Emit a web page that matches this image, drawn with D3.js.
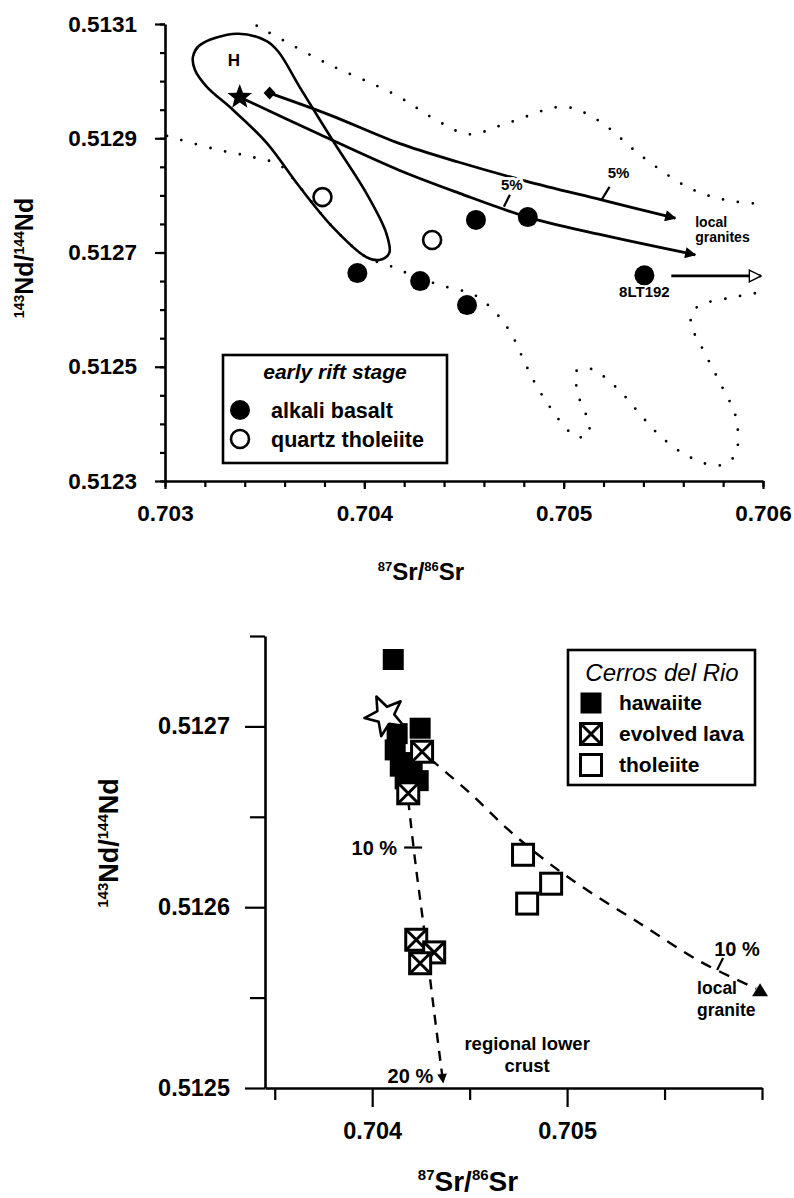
<!DOCTYPE html>
<html>
<head>
<meta charset="utf-8">
<script src="https://cdn.jsdelivr.net/npm/d3@7"></script>
<style>
  body { margin: 0; background: #fff; }
  svg text { font-family: "Liberation Sans", Arial, Helvetica, sans-serif; fill: #000; }
</style>
</head>
<body>
<svg id="fig" width="794" height="1198"></svg>
<script>
// ---------- upper panel: early rift stage ----------
const alkaliBasalt = [[0.703965, 0.512664], [0.70428, 0.51265], [0.704515, 0.512608],
                      [0.70456, 0.512757], [0.70482, 0.512762], [0.705405, 0.51266]];
const quartzTholeiite = [[0.70379, 0.512797], [0.70434, 0.512722]];
const starA = [0.703375, 0.512972];
const diamondA = [0.703525, 0.512979];
// mixing curves towards local granites
const mixUpper = [[0.703525, 0.512979], [0.703825, 0.512941], [0.704175, 0.512891], [0.704475, 0.512858],
                  [0.70481, 0.512825], [0.70519, 0.512792], [0.70556, 0.51276]];
const mixLower = [[0.703375, 0.512972], [0.703775, 0.512907], [0.704175, 0.512844], [0.704475, 0.512804],
                  [0.70482, 0.512762], [0.705175, 0.512732], [0.70566, 0.512696]];
// dotted field
const fieldTop = [[0.70346, 0.513097], [0.7038, 0.513033], [0.70415, 0.512977], [0.704385, 0.512927],
                  [0.704525, 0.512907], [0.70473, 0.512928], [0.705, 0.512955], [0.70517, 0.512932],
                  [0.70539, 0.512869], [0.70563, 0.512813], [0.70581, 0.512792], [0.706, 0.512785]];
const fieldBottom = [[0.70301, 0.512904], [0.70325, 0.512881], [0.70344, 0.512867], [0.703575, 0.512853],
                     [0.703675, 0.512815], [0.70384, 0.512745], [0.70401, 0.512692], [0.70414, 0.512675],
                     [0.704275, 0.512655], [0.70441, 0.51264], [0.70455, 0.512626], [0.704655, 0.512596],
                     [0.704735, 0.512559], [0.704795, 0.512515], [0.704855, 0.512472], [0.70493, 0.51243],
                     [0.705015, 0.512391], [0.705065, 0.512377], [0.705125, 0.512381], [0.705125, 0.512403],
                     [0.705075, 0.512449], [0.705065, 0.512493], [0.70514, 0.512496], [0.705205, 0.512482],
                     [0.705305, 0.512449], [0.705395, 0.512412], [0.70549, 0.512377], [0.70561, 0.512346],
                     [0.70574, 0.512328], [0.705815, 0.51233], [0.70586, 0.512346], [0.705875, 0.512368],
                     [0.70586, 0.512417], [0.7058, 0.512461], [0.705705, 0.512526], [0.705645, 0.512568],
                     [0.70564, 0.512592], [0.705685, 0.512608], [0.705825, 0.51262], [0.705965, 0.512629]];
// Hawaii field "H"
const fieldH = [[0.70314, 0.513042], [0.703175, 0.513063], [0.70336, 0.513083], [0.70351, 0.51307],
                [0.70357, 0.513051], [0.703675, 0.51299], [0.70384, 0.512897], [0.70401, 0.512804],
                [0.70411, 0.512734], [0.704125, 0.512699], [0.704075, 0.512687], [0.70401, 0.512692],
                [0.70384, 0.512745], [0.703675, 0.512815], [0.70351, 0.512892], [0.70334, 0.51295],
                [0.70321, 0.51299], [0.70315, 0.51302]];
const arrow8LT = [[0.70554, 0.512659], [0.70599, 0.512659]];
const xMajorA = [0.703, 0.704, 0.705, 0.706];
const yMajorA = [0.5123, 0.5125, 0.5127, 0.5129, 0.5131];

// ---------- lower panel: Cerros del Rio ----------
const hawaiite = [[0.704108, 0.512737], [0.704246, 0.512699], [0.704128, 0.512696], [0.704118, 0.512687],
                  [0.704144, 0.512678], [0.704205, 0.51268], [0.704169, 0.512671], [0.704236, 0.51267]];
const evolvedLava = [[0.704256, 0.512686], [0.704185, 0.512663], [0.704226, 0.512582],
                     [0.704318, 0.512575], [0.704246, 0.512569]];
const tholeiite = [[0.704774, 0.512629], [0.704918, 0.512613], [0.704795, 0.512602]];
const starB = [0.704067, 0.512706];
const localGranite = [0.70599, 0.512554];
const crustCurve = [[0.704185, 0.512659], [0.70422, 0.512626], [0.704267, 0.512587],
                    [0.704318, 0.512542], [0.704364, 0.512503]];
const graniteCurve = [[0.704297, 0.512682], [0.704503, 0.512663], [0.704697, 0.512643], [0.704887, 0.512626],
                      [0.705067, 0.512612], [0.705374, 0.512591], [0.705682, 0.51257], [0.70597, 0.512555]];
const xMajorB = [0.704, 0.705];
const xMinorB = [0.7035, 0.7045, 0.7055, 0.706];
const yMajorB = [0.5125, 0.5126, 0.5127];
const yMinorB = [0.51255, 0.51265, 0.51275];

const svg = d3.select('#fig');

// scales
const xA = d3.scaleLinear().domain([0.703, 0.706]).range([165, 763]);
const yA = d3.scaleLinear().domain([0.5123, 0.5131]).range([481, 24]);
const xB = d3.scaleLinear().domain([0.70345, 0.706]).range([265, 762]);
const yB = d3.scaleLinear().domain([0.5125, 0.51275]).range([1088, 636]);

// markers
const defs = svg.append('defs');
defs.append('marker').attr('id', 'headFilled')
  .attr('viewBox', '0 0 10 10').attr('refX', 9).attr('refY', 5)
  .attr('markerWidth', 5.5).attr('markerHeight', 4).attr('orient', 'auto')
  .append('path').attr('d', 'M0,0L10,5L0,10Z').attr('fill', '#000');
defs.append('marker').attr('id', 'headOpen')
  .attr('viewBox', '-1 -1 12 12').attr('refX', 10).attr('refY', 5)
  .attr('markerWidth', 18).attr('markerHeight', 14).attr('orient', 'auto')
  .attr('markerUnits', 'userSpaceOnUse')
  .append('path').attr('d', 'M0,0L10,5L0,10Z').attr('fill', '#fff').attr('stroke', '#000').attr('stroke-width', 1.2);

function drawAxes(x, y, o) {
  const x0 = x.range()[0], y0 = y.range()[0];
  const gxm = svg.append('g').attr('transform', `translate(0,${y0})`)
    .call(d3.axisBottom(x).tickValues(o.xMinor).tickSize(o.xMinorLen).tickFormat(''));
  gxm.select('.domain').remove();
  const gx = svg.append('g').attr('transform', `translate(0,${y0})`)
    .call(d3.axisBottom(x).tickValues(o.xMajor).tickSize(o.xMajorLen).tickSizeOuter(0)
      .tickPadding(o.xPad).tickFormat(d3.format('.3f')));
  const gym = svg.append('g').attr('transform', `translate(${x0},0)`)
    .call(d3.axisLeft(y).tickValues(o.yMinor).tickSize(o.yMinorLen).tickFormat(''));
  gym.select('.domain').remove();
  const gy = svg.append('g').attr('transform', `translate(${x0},0)`)
    .call(d3.axisLeft(y).tickValues(o.yMajor).tickSize(o.yMajorLen).tickSizeOuter(0)
      .tickPadding(o.yPad).tickFormat(d3.format('.4f')));
  [gxm, gx, gym, gy].forEach(g => {
    g.selectAll('.domain').attr('stroke', '#000').attr('stroke-width', 2.6);
    g.selectAll('.tick line').attr('stroke', '#000').attr('stroke-width', 2.2);
    g.selectAll('.tick text').attr('font-size', o.fontSize).attr('font-weight', 'bold')
      .style('font-family', '"Liberation Sans", Arial, sans-serif');
  });
}

function axisTitle(x, y, rotate, size, supSize, parts) {
  const t = svg.append('text').attr('text-anchor', 'middle').attr('font-weight', 'bold')
    .attr('font-size', size)
    .attr('transform', `translate(${x},${y})` + (rotate ? ' rotate(-90)' : ''));
  parts.forEach(([str, sup], i) => {
    const s = t.append('tspan').text(str);
    if (sup) s.attr('font-size', supSize).attr('dy', -size * 0.38);
    else if (i > 0) s.attr('dy', size * 0.38);
  });
  return t;
}

function starPath(cx, cy, R, r, rot) {
  const pts = [];
  for (let i = 0; i < 10; i++) {
    const a = (rot - 90 + i * 36) * Math.PI / 180;
    const rad = i % 2 ? r : R;
    pts.push([cx + rad * Math.cos(a), cy + rad * Math.sin(a)]);
  }
  return 'M' + pts.map(p => p.join(',')).join('L') + 'Z';
}

const smooth = (x, y) => d3.line().x(d => x(d[0])).y(d => y(d[1])).curve(d3.curveCatmullRom.alpha(0.5));

// ================= UPPER PANEL =================
const gA = svg.append('g');

// dotted field outline
[fieldTop, fieldBottom].forEach(f => {
  gA.append('path').attr('d', smooth(xA, yA)(f)).attr('fill', 'none')
    .attr('stroke', '#000').attr('stroke-width', 2.8)
    .attr('stroke-linecap', 'round').attr('stroke-dasharray', '0 15');
});

// H field
gA.append('path')
  .attr('d', d3.line().x(d => xA(d[0])).y(d => yA(d[1])).curve(d3.curveCatmullRomClosed.alpha(0.5))(fieldH))
  .attr('fill', 'none').attr('stroke', '#000').attr('stroke-width', 2.6);
gA.append('text').attr('x', xA(0.703345)).attr('y', yA(0.513037) + 6).attr('text-anchor', 'middle')
  .attr('font-size', 17).attr('font-weight', 'bold').text('H');

// mixing curves
[mixUpper, mixLower].forEach(c => {
  gA.append('path').attr('d', smooth(xA, yA)(c)).attr('fill', 'none')
    .attr('stroke', '#000').attr('stroke-width', 2.8).attr('marker-end', 'url(#headFilled)');
});

// 5% ticks and labels
const tickMarksA = [
  { pt: [0.7047, 0.51278], dx: 6, dy: -12, label: [0.70474, 0.512818] },
  { pt: [0.70519, 0.512792], dx: 8, dy: -13, label: [0.705275, 0.512839] }
];
tickMarksA.forEach(t => {
  gA.append('line').attr('x1', xA(t.pt[0])).attr('y1', yA(t.pt[1]))
    .attr('x2', xA(t.pt[0]) + t.dx).attr('y2', yA(t.pt[1]) + t.dy)
    .attr('stroke', '#000').attr('stroke-width', 2.2);
  gA.append('text').attr('x', xA(t.label[0])).attr('y', yA(t.label[1]) + 5)
    .attr('text-anchor', 'middle').attr('font-size', 15).attr('font-weight', 'bold')
    .attr('stroke', '#fff').attr('stroke-width', 6).attr('paint-order', 'stroke')
    .attr('stroke-linejoin', 'round').text('5%');
});

gA.append('text').attr('x', xA(0.70566)).attr('y', yA(0.512757) + 7)
  .attr('font-size', 14).attr('font-weight', 'bold').text('local');
gA.append('text').attr('x', xA(0.70566)).attr('y', yA(0.512727) + 5)
  .attr('font-size', 14).attr('font-weight', 'bold').text('granites');

// 8LT192 arrow
gA.append('path').attr('d', d3.line().x(d => xA(d[0])).y(d => yA(d[1]))(arrow8LT))
  .attr('stroke', '#000').attr('stroke-width', 2.6).attr('marker-end', 'url(#headOpen)');
gA.append('text').attr('x', xA(0.705405)).attr('y', yA(0.512622))
  .attr('text-anchor', 'middle').attr('font-size', 15).attr('font-weight', 'bold').text('8LT192');

// end members
gA.append('path').attr('d', starPath(xA(starA[0]), yA(starA[1]), 13, 5.5, 0)).attr('fill', '#000');
gA.append('path').attr('d', () => {
  const cx = xA(diamondA[0]), cy = yA(diamondA[1]);
  return `M${cx},${cy - 6.5}L${cx + 6},${cy}L${cx},${cy + 6.5}L${cx - 6},${cy}Z`;
}).attr('fill', '#000');

// samples
gA.selectAll('.qt').data(quartzTholeiite).join('circle')
  .attr('cx', d => xA(d[0])).attr('cy', d => yA(d[1])).attr('r', 9)
  .attr('fill', '#fff').attr('stroke', '#000').attr('stroke-width', 2.6);
gA.selectAll('.ab').data(alkaliBasalt).join('circle')
  .attr('cx', d => xA(d[0])).attr('cy', d => yA(d[1])).attr('r', 10).attr('fill', '#000');

drawAxes(xA, yA, {
  xMajor: xMajorA, xMinor: xA.ticks(12), xMajorLen: 8, xMinorLen: 6, xPad: 16,
  yMajor: yMajorA, yMinor: yA.ticks(16), yMajorLen: 10, yMinorLen: 5, yPad: 18,
  fontSize: 22.5
});

// legend (upper)
const legA = svg.append('g');
legA.append('rect').attr('x', 223).attr('y', 355).attr('width', 224).attr('height', 108)
  .attr('fill', '#fff').attr('stroke', '#000').attr('stroke-width', 2.6);
legA.append('text').attr('x', 335).attr('y', 379).attr('text-anchor', 'middle')
  .attr('font-size', 21).attr('font-weight', 'bold').attr('font-style', 'italic').text('early rift stage');
legA.append('circle').attr('cx', 240).attr('cy', 410).attr('r', 10).attr('fill', '#000');
legA.append('text').attr('x', 271).attr('y', 418).attr('font-size', 21.5).attr('font-weight', 'bold').text('alkali basalt');
legA.append('circle').attr('cx', 240).attr('cy', 439).attr('r', 9).attr('fill', '#fff')
  .attr('stroke', '#000').attr('stroke-width', 2.6);
legA.append('text').attr('x', 271).attr('y', 447).attr('font-size', 21.5).attr('font-weight', 'bold').text('quartz tholeiite');

axisTitle(33, 258, true, 25, 14, [['143', true], ['Nd/', false], ['144', true], ['Nd', false]]);
axisTitle(421, 580, false, 24, 13, [['87', true], ['Sr/', false], ['86', true], ['Sr', false]]);

// ================= LOWER PANEL =================
const gB = svg.append('g');
const S = 21;

// mixing curves
gB.append('path').attr('d', smooth(xB, yB)(crustCurve)).attr('fill', 'none')
  .attr('stroke', '#000').attr('stroke-width', 2.4).attr('stroke-dasharray', '10 8')
  .attr('marker-end', 'url(#headFilled)');
gB.append('path').attr('d', smooth(xB, yB)(graniteCurve)).attr('fill', 'none')
  .attr('stroke', '#000').attr('stroke-width', 2.4).attr('stroke-dasharray', '11 9');

// 10 % ticks
gB.append('line').attr('x1', xB(0.70421) - 9).attr('x2', xB(0.70421) + 9)
  .attr('y1', yB(0.512633)).attr('y2', yB(0.512633)).attr('stroke', '#000').attr('stroke-width', 2.2);
gB.append('line').attr('x1', xB(0.705785) + 3).attr('y1', yB(0.512568) - 7)
  .attr('x2', xB(0.705785) - 3).attr('y2', yB(0.512568) + 5).attr('stroke', '#000').attr('stroke-width', 2.2);

const noteB = (x, y, anchor, size, str) => gB.append('text').attr('x', x).attr('y', y)
  .attr('text-anchor', anchor).attr('font-size', size).attr('font-weight', 'bold').text(str);
noteB(xB(0.704128), yB(0.512629), 'end', 20, '10 %');
noteB(xB(0.705872), yB(0.512573), 'middle', 20, '10 %');
noteB(xB(0.704313), yB(0.512503), 'end', 20, '20 %');
noteB(xB(0.705667), yB(0.512552), 'start', 17.5, 'local');
noteB(xB(0.705667), yB(0.51254), 'start', 17.5, 'granite');
noteB(xB(0.704795), yB(0.512521), 'middle', 18.5, 'regional lower');
noteB(xB(0.704795), yB(0.512509), 'middle', 18.5, 'crust');

// local granite triangle
gB.append('path').attr('d', () => {
  const cx = xB(localGranite[0]), cy = yB(localGranite[1]);
  return `M${cx},${cy - 7}L${cx + 8},${cy + 6}L${cx - 8},${cy + 6}Z`;
}).attr('fill', '#000');

// samples
gB.selectAll('.th').data(tholeiite).join('rect')
  .attr('x', d => xB(d[0]) - S / 2).attr('y', d => yB(d[1]) - S / 2)
  .attr('width', S).attr('height', S).attr('fill', '#fff').attr('stroke', '#000').attr('stroke-width', 3);
gB.selectAll('.hw').data(hawaiite).join('rect')
  .attr('x', d => xB(d[0]) - S / 2).attr('y', d => yB(d[1]) - S / 2)
  .attr('width', S).attr('height', S).attr('fill', '#000');
gB.append('path').attr('d', starPath(xB(starB[0]), yB(starB[1]), 21, 9, -25))
  .attr('fill', '#fff').attr('stroke', '#000').attr('stroke-width', 2.6).attr('stroke-linejoin', 'round');

function evolvedSymbol(g, cx, cy, s) {
  const h = s / 2;
  g.append('rect').attr('x', cx - h).attr('y', cy - h).attr('width', s).attr('height', s)
    .attr('fill', '#fff').attr('stroke', '#000').attr('stroke-width', 3);
  g.append('path').attr('d', `M${cx - h},${cy - h}L${cx + h},${cy + h}M${cx + h},${cy - h}L${cx - h},${cy + h}`)
    .attr('stroke', '#000').attr('stroke-width', 3);
}
evolvedLava.forEach(d => evolvedSymbol(gB, xB(d[0]), yB(d[1]), S));

drawAxes(xB, yB, {
  xMajor: xMajorB, xMinor: xMinorB, xMajorLen: 19, xMinorLen: 12, xPad: 15,
  yMajor: yMajorB, yMinor: yMinorB, yMajorLen: 20, yMinorLen: 15, yPad: 15,
  fontSize: 23.5
});

// legend (lower)
const legB = svg.append('g');
legB.append('rect').attr('x', 568).attr('y', 650).attr('width', 187).attr('height', 135)
  .attr('fill', '#fff').attr('stroke', '#000').attr('stroke-width', 2.6);
legB.append('text').attr('x', 662).attr('y', 681).attr('text-anchor', 'middle')
  .attr('font-size', 24).attr('font-style', 'italic').text('Cerros del Rio');
legB.append('rect').attr('x', 591 - S / 2).attr('y', 703 - S / 2).attr('width', S).attr('height', S).attr('fill', '#000');
evolvedSymbol(legB, 591, 734, S);
legB.append('rect').attr('x', 591 - S / 2).attr('y', 765 - S / 2).attr('width', S).attr('height', S)
  .attr('fill', '#fff').attr('stroke', '#000').attr('stroke-width', 3);
[['hawaiite', 703], ['evolved lava', 734], ['tholeiite', 765]].forEach(([t, cy]) => {
  legB.append('text').attr('x', 619).attr('y', cy + 7).attr('font-size', 21).attr('font-weight', 'bold').text(t);
});

axisTitle(118, 843, true, 27, 15, [['143', true], ['Nd/', false], ['144', true], ['Nd', false]]);
axisTitle(468, 1191, false, 28, 15, [['87', true], ['Sr/', false], ['86', true], ['Sr', false]]);
</script>
</body>
</html>
